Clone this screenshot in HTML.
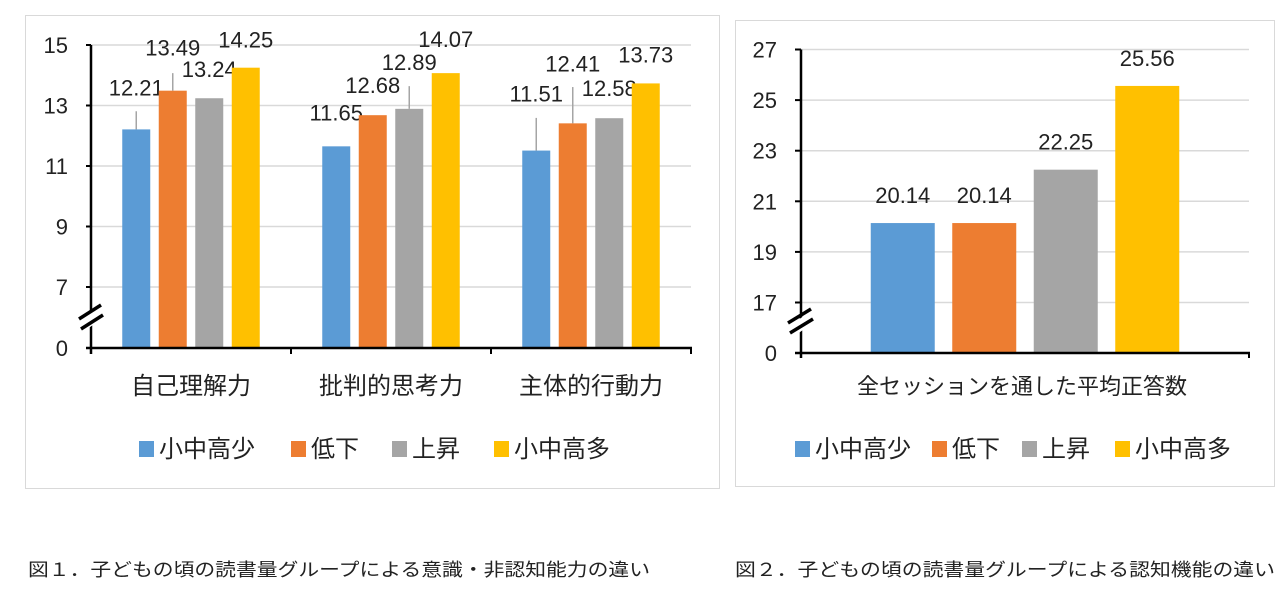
<!DOCTYPE html>
<html><head><meta charset="utf-8">
<style>
body{margin:0;width:1288px;height:593px;background:#fff;overflow:hidden;font-family:"Liberation Sans","Noto Sans CJK JP",sans-serif;}
svg{position:absolute;left:0;top:0}
text{font-family:"Liberation Sans","Noto Sans CJK JP",sans-serif;fill:#222}
text.num{font-family:"Liberation Sans Narrow","Liberation Sans",sans-serif}
</style></head>
<body>
<svg id="s" width="1288" height="593">
<rect x="25.5" y="15.5" width="694" height="473" fill="#fff" stroke="#d9d9d9"/>
<rect x="735.5" y="20.5" width="539" height="466" fill="#fff" stroke="#d9d9d9"/>
<text x="28" y="576" font-size="18" textLength="622" lengthAdjust="spacingAndGlyphs">図１．子どもの頃の読書量グループによる意識・非認知能力の違い</text>
<text x="735" y="576" font-size="18" textLength="540" lengthAdjust="spacingAndGlyphs">図２．子どもの頃の読書量グループによる認知機能の違い</text>
</svg>
<script>
const series=['小中高少','低下','上昇','小中高多'];
const colors=['#5b9bd5','#ed7d31','#a5a5a5','#ffc000'];
const cats1=['自己理解力','批判的思考力','主体的行動力'];
const vals1=[[12.21,11.65,11.51],[13.49,12.68,12.41],[13.24,12.89,12.58],[14.25,14.07,13.73]];
const err1=[[0.6,0,1.08],[0.58,0,1.2],[0,0.75,0],[0,0,0]];
const ticks1=[7,9,11,13,15];
const cats2=['全セッションを通した平均正答数'];
const vals2=[20.14,20.14,22.25,25.56];
const ticks2=[17,19,21,23,25,27];
const NS='http://www.w3.org/2000/svg';
const svg=document.getElementById('s');
function mk(t,a,txt){const e=document.createElementNS(NS,t);for(const k in a)e.setAttribute(k,a[k]);if(txt!==undefined)e.textContent=txt;svg.appendChild(e);return e;}
// label offsets (pixel styling for manual label placement in chart 1)
const lblDy=[[34,26,49],[35,22,52],[21,39,22],[20,26,21]];

// ---- chart 1 ----
const y1=v=>287-(v-7)*30.25;
const x0=91,x1=691,cw=(x1-x0)/cats1.length;
ticks1.forEach(t=>{
 const g=mk('line',{x1:x0,x2:x1,y1:y1(t),y2:y1(t),stroke:'#d9d9d9','stroke-width':1.5});
 
 const tl=mk('text',{class:'num',x:68,y:y1(t)+8,'font-size':22,'text-anchor':'end'},String(t));
 
 mk('line',{x1:86,x2:x0,y1:y1(t),y2:y1(t),stroke:'#000','stroke-width':2});
});
{const tl=mk('text',{class:'num',x:68,y:356,'font-size':22,'text-anchor':'end'},'0');
}
const bw=28,st=36.5;
cats1.forEach((c,ci)=>{
 const gs=x0+ci*cw+(cw-(3*st+bw))/2;
 series.forEach((s,si)=>{
  const v=vals1[si][ci],bx=gs+si*st,by=y1(v);
  const e=err1[si][ci];
  if(e>0){const el=mk('line',{x1:bx+bw/2,x2:bx+bw/2,y1:y1(v+e),y2:by,stroke:'#a5a5a5','stroke-width':1.5});
   }
  const r=mk('rect',{x:bx,y:by,width:bw,height:348-by,fill:colors[si]});
  
  const l=mk('text',{class:'num',x:bx+bw/2,y:by-lblDy[si][ci],'font-size':22,'text-anchor':'middle'},v.toFixed(2));
  
 });
 const cl=mk('text',{x:x0+ci*cw+cw/2,y:394,'font-size':24,'text-anchor':'middle'},c);
 
 mk('line',{x1:x0+(ci+1)*cw,x2:x0+(ci+1)*cw,y1:348,y2:354,stroke:'#000','stroke-width':2});
});
mk('line',{x1:x0,x2:x0,y1:y1(15),y2:354,stroke:'#000','stroke-width':2.5});
mk('line',{x1:86,x2:x1+1,y1:348,y2:348,stroke:'#000','stroke-width':2.5});
mk('rect',{x:78,y:314,width:26,height:11,fill:'#fff',transform:'rotate(-35 91 319)'});
mk('line',{x1:79,y1:319,x2:101,y2:305,stroke:'#000','stroke-width':3.5});
mk('line',{x1:81,y1:329,x2:103,y2:315,stroke:'#000','stroke-width':3.5});
const lx1=[139,291,392,494];
series.forEach((s,i)=>{
 const r=mk('rect',{x:lx1[i],y:441,width:15,height:16,fill:colors[i]});
 
 const t=mk('text',{x:lx1[i]+20,y:457,'font-size':24},s);
 
});

// ---- chart 2 ----
const y2=v=>302.5-(v-17)*25.3;
const a0=801,a1=1249;
ticks2.forEach(t=>{
 const g=mk('line',{x1:a0,x2:a1,y1:y2(t),y2:y2(t),stroke:'#d9d9d9','stroke-width':1.5});
 
 const tl=mk('text',{class:'num',x:777,y:y2(t)+8,'font-size':22,'text-anchor':'end'},String(t));
 
 mk('line',{x1:795,x2:a0,y1:y2(t),y2:y2(t),stroke:'#000','stroke-width':2});
});
{const tl=mk('text',{class:'num',x:777,y:361,'font-size':22,'text-anchor':'end'},'0');
}
const bw2=64,st2=81.5,gs2=(a0+a1)/2-(3*st2+bw2)/2;
vals2.forEach((v,si)=>{
 const bx=gs2+si*st2,by=y2(v);
 const r=mk('rect',{x:bx,y:by,width:bw2,height:353-by,fill:colors[si]});
 
 const l=mk('text',{class:'num',x:bx+bw2/2,y:by-20,'font-size':22,'text-anchor':'middle'},v.toFixed(2));
 
});
mk('line',{x1:a0,x2:a0,y1:y2(27),y2:358,stroke:'#000','stroke-width':2.5});
mk('line',{x1:795,x2:a1+1,y1:353,y2:353,stroke:'#000','stroke-width':2.5});
mk('line',{x1:a1,x2:a1,y1:353,y2:358,stroke:'#000','stroke-width':2});
mk('rect',{x:788,y:319,width:26,height:11,fill:'#fff',transform:'rotate(-35 801 324)'});
mk('line',{x1:788,y1:323,x2:811,y2:309,stroke:'#000','stroke-width':3.5});
mk('line',{x1:790,y1:333,x2:813,y2:319,stroke:'#000','stroke-width':3.5});
{const cl=mk('text',{x:1022,y:394,'font-size':22,'text-anchor':'middle'},cats2[0]);
}
const lx2=[795,932,1022,1115];
series.forEach((s,i)=>{
 const r=mk('rect',{x:lx2[i],y:441,width:15,height:16,fill:colors[i]});
 
 const t=mk('text',{x:lx2[i]+20,y:457,'font-size':24},s);
 
});
</script>
</body></html>
